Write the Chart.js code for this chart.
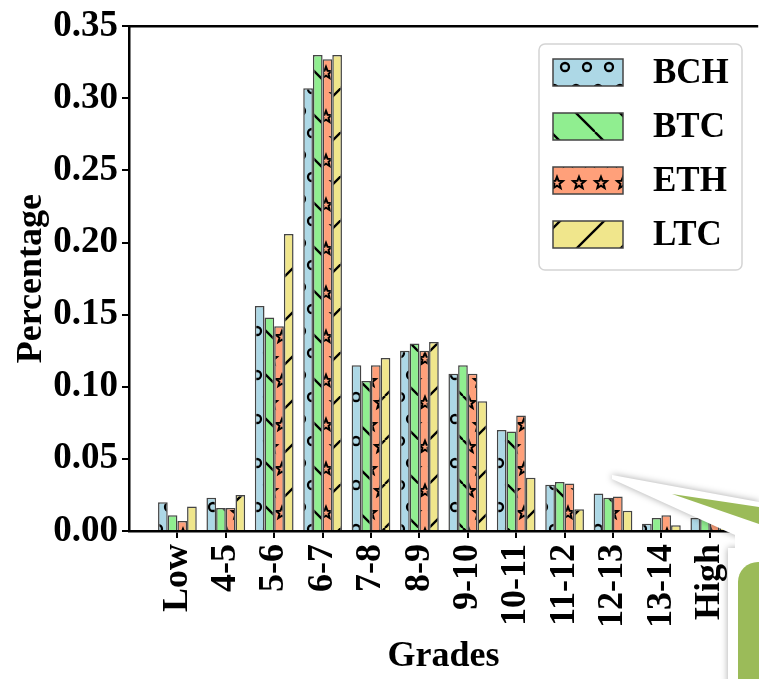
<!DOCTYPE html>
<html>
<head>
<meta charset="utf-8">
<script src="https://cdn.jsdelivr.net/npm/chart.js@4"></script>
<style>
  body { margin: 0; background: #fff; }
  #wrap { width: 759px; height: 679px; }
</style>
</head>
<body>
<div id="wrap"><canvas id="myChart" width="759" height="679"></canvas></div>
<script>
// grade buckets and share of each coin per bucket
const grades = ['Low', '4-5', '5-6', '6-7', '7-8', '8-9', '9-10', '10-11', '11-12', '12-13', '13-14', 'High'];
const bch = [0.020, 0.023, 0.156, 0.307, 0.115, 0.125, 0.109, 0.070, 0.032, 0.026, 0.005, 0.009];
const btc = [0.011, 0.016, 0.148, 0.330, 0.104, 0.130, 0.115, 0.069, 0.034, 0.023, 0.009, 0.009];
const eth = [0.007, 0.016, 0.142, 0.327, 0.115, 0.125, 0.109, 0.080, 0.033, 0.024, 0.011, 0.006];
const ltc = [0.017, 0.025, 0.206, 0.330, 0.120, 0.131, 0.090, 0.037, 0.015, 0.014, 0.004, 0.004];
const yTicks = [0, 0.05, 0.10, 0.15, 0.20, 0.25, 0.30, 0.35];

const font = size => ({ family: 'Liberation Serif', weight: 'bold', size: size });

// hatch tiles like matplotlib ('o', '\\', '*', '/')
function hatch(color, kind, dx, dy) {
    const s = 44;
    const c = document.createElement('canvas');
    c.width = s; c.height = s;
    const g = c.getContext('2d');
    g.fillStyle = color;
    g.fillRect(0, 0, s, s);
    g.strokeStyle = '#000';
    g.lineWidth = 2.3;
    const pts = [];
    for (const x of [0, 22, 44]) for (const y of [0, 44]) pts.push([x, y]);
    pts.push([11, 22], [33, 22], [-11, 22], [55, 22]);
    if (kind === '/') {
        for (const o of [-s, 0, s]) { g.beginPath(); g.moveTo(o, s); g.lineTo(o + s, 0); g.stroke(); }
    } else if (kind === '\\') {
        for (const o of [-s, 0, s]) { g.beginPath(); g.moveTo(o, 0); g.lineTo(o + s, s); g.stroke(); }
    } else if (kind === 'o') {
        for (const [x, y] of pts) { g.beginPath(); g.arc(x, y, 4, 0, Math.PI * 2); g.stroke(); }
    } else if (kind === '*') {
        g.lineWidth = 2;
        for (const [x, y] of pts) {
            g.beginPath();
            for (let k = 0; k < 10; k++) {
                const r = k % 2 ? 2.7 : 6.2;
                const a = -Math.PI / 2 + k * Math.PI / 5;
                const px = x + r * Math.cos(a), py = y + r * Math.sin(a);
                if (k === 0) g.moveTo(px, py); else g.lineTo(px, py);
            }
            g.closePath();
            g.stroke();
        }
    }
    const p = g.createPattern(c, 'repeat');
    p.setTransform(new DOMMatrix([1, 0, 0, 1, dx, dy]));
    return p;
}

const pad = arr => [null, ...arr, null];

const extras = {
    id: 'extras',
    afterDraw(chart) {
        const ctx = chart.ctx;
        const area = chart.chartArea;
        ctx.save();
        // top spine
        ctx.strokeStyle = '#000';
        ctx.lineWidth = 2.5;
        ctx.beginPath();
        ctx.moveTo(area.left - 1, area.top);
        ctx.lineTo(area.right, area.top);
        ctx.stroke();

        // legend box
        ctx.fillStyle = 'rgba(255,255,255,0.8)';
        ctx.strokeStyle = '#d4d4d4';
        ctx.lineWidth = 1.5;
        ctx.beginPath();
        ctx.roundRect(539, 44, 203, 226, 6);
        ctx.fill();
        ctx.stroke();
        chart.data.datasets.forEach((ds, i) => {
            const y = 59 + i * 54;
            ctx.fillStyle = ds.backgroundColor;
            ctx.fillRect(553, y, 70, 27);
            ctx.strokeStyle = '#444';
            ctx.lineWidth = 1.5;
            ctx.strokeRect(553, y, 70, 27);
            ctx.fillStyle = '#000';
            ctx.font = 'bold 35px "Liberation Serif"';
            ctx.textBaseline = 'middle';
            ctx.fillText(ds.label, 653, y + 15);
        });

        // slide decoration in the lower right corner
        ctx.shadowColor = 'rgba(0,0,0,0.35)';
        ctx.shadowBlur = 7;
        ctx.fillStyle = '#fff';
        ctx.beginPath();
        ctx.moveTo(612, 475);
        ctx.lineTo(759, 502);
        ctx.lineTo(759, 545);
        ctx.lineTo(728, 532);
        ctx.lineTo(612, 479);
        ctx.closePath();
        ctx.fill();
        ctx.fillRect(728, 548, 40, 140);
        ctx.shadowBlur = 0;
        ctx.shadowColor = 'transparent';
        ctx.fillStyle = '#fff';
        ctx.fillRect(735, 530, 30, 30);
        ctx.fillStyle = '#9bbb59';
        ctx.beginPath();
        ctx.moveTo(672, 494);
        ctx.lineTo(759, 507);
        ctx.lineTo(759, 524);
        ctx.closePath();
        ctx.fill();
        ctx.beginPath();
        ctx.roundRect(738, 562, 50, 140, 20);
        ctx.fill();
        ctx.restore();
    }
};

const ctx = document.getElementById('myChart').getContext('2d');
const myChart = new Chart(ctx, { //eslint-disable-line
    type: 'bar',
    data: {
        labels: pad(grades).map(g => g || ''),
        datasets: [
            { label: 'BCH', data: pad(bch), backgroundColor: hatch('#add8e6', 'o', 4, 1) },
            { label: 'BTC', data: pad(btc), backgroundColor: hatch('#90ee90', '\\', 23, 0) },
            { label: 'ETH', data: pad(eth), backgroundColor: hatch('#ffa07a', '*', 7, 7) },
            { label: 'LTC', data: pad(ltc), backgroundColor: hatch('#f0e68c', '/', 33, 0) }
        ]
    },
    options: {
        responsive: false,
        animation: false,
        devicePixelRatio: 1,
        layout: { padding: { top: 24, right: 0, left: 0, bottom: 0 } },
        datasets: {
            bar: { barPercentage: 1, categoryPercentage: 0.8, borderColor: '#444', borderWidth: 1.5 }
        },
        plugins: { legend: { display: false }, tooltip: { enabled: false } },
        scales: {
            x: {
                offset: false,
                grid: { offset: false, drawOnChartArea: false, tickLength: 7, color: '#000', lineWidth: 2 },
                border: { color: '#000', width: 2.5 },
                ticks: { autoSkip: false, minRotation: 90, maxRotation: 90, padding: 6, color: '#000', font: font(36) },
                title: { display: true, text: 'Grades', color: '#000', font: font(36), padding: { top: 0, bottom: 1 } },
                afterBuildTicks: s => { s.ticks = s.ticks.filter(t => t.value > 0 && t.value <= grades.length); },
                afterFit: s => { s.height = 148; }
            },
            y: {
                min: 0,
                max: 0.35,
                grid: { drawOnChartArea: false, tickLength: 7, color: '#000', lineWidth: 2 },
                border: { color: '#000', width: 2.5 },
                ticks: { color: '#000', font: font(37), padding: 4, callback: v => Number(v).toFixed(2) },
                afterBuildTicks: s => { s.ticks = yTicks.map(v => ({ value: v })); },
                title: { display: true, text: 'Percentage', color: '#000', font: font(36), padding: { top: 10, bottom: 0 } },
                afterFit: s => { s.width = 129; }
            }
        }
    },
    plugins: [extras]
});
</script>
</body>
</html>
